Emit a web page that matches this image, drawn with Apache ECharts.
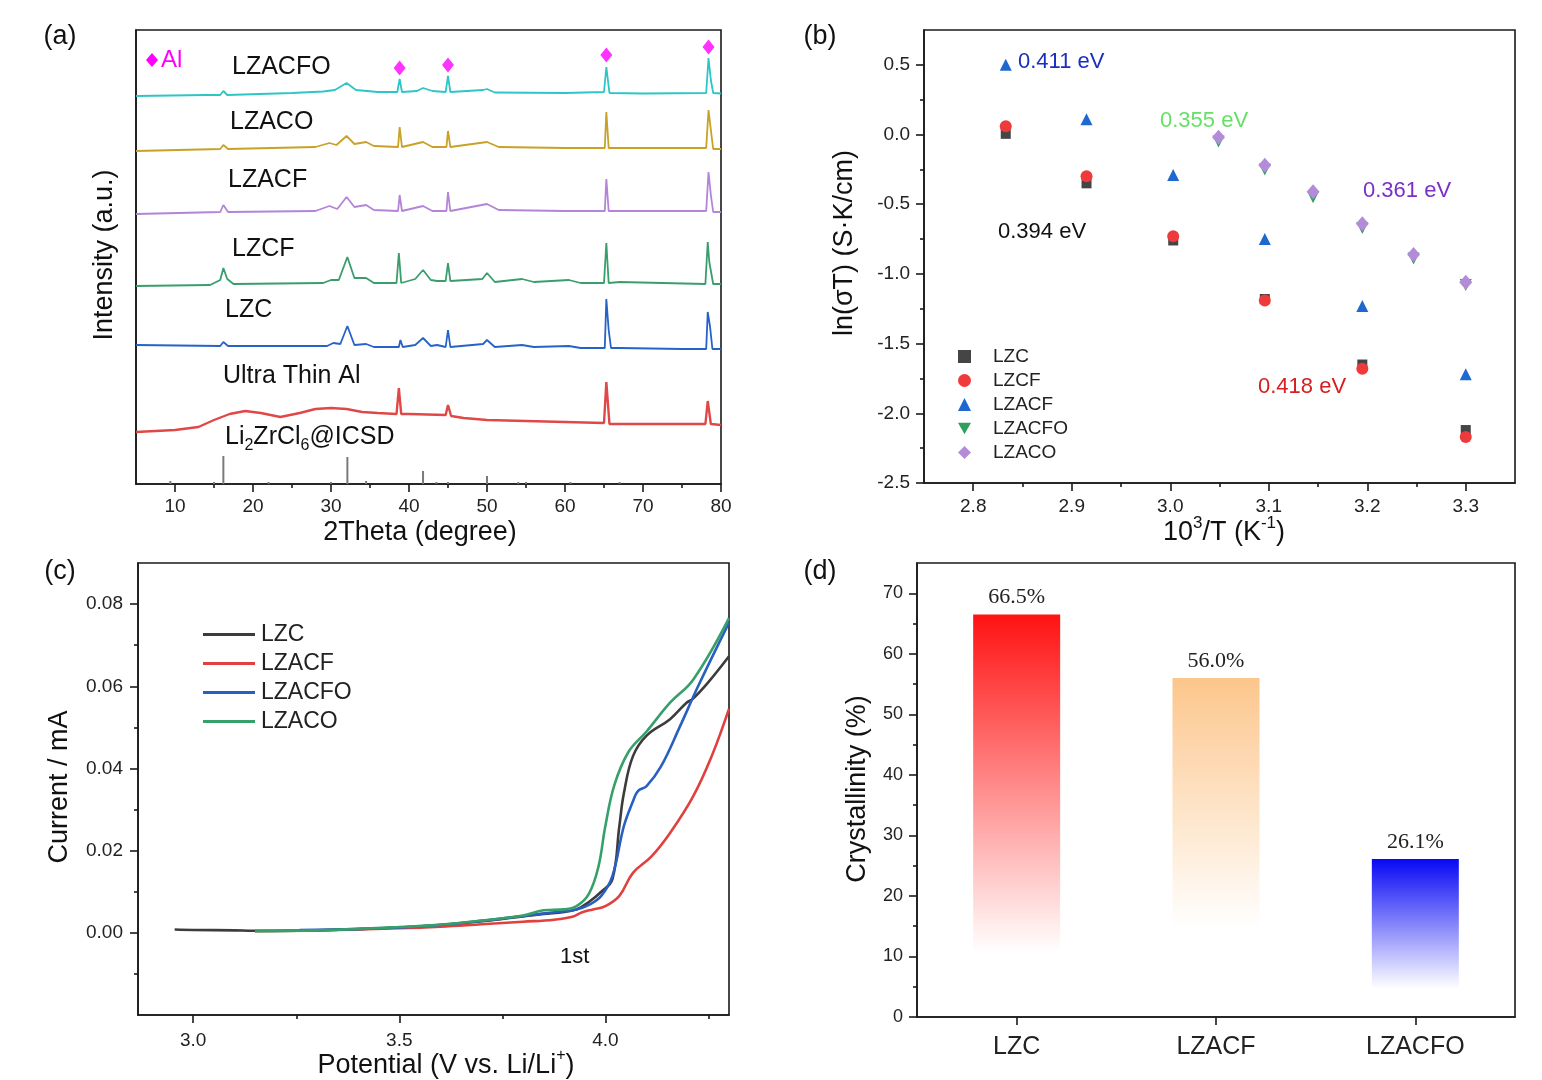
<!DOCTYPE html>
<html><head><meta charset="utf-8">
<script src="https://cdn.jsdelivr.net/npm/echarts@6.0.0/dist/echarts.min.js"></script>
<style>html,body{margin:0;padding:0;background:#fff}#c{width:1542px;height:1080px}</style>
</head><body><div id="c"></div>
<script>
// ---------- Panel (a): XRD patterns (2θ, stacked intensity a.u.) ----------
const xrdLZACFO = [[5,388],[14,389],[15.8,389],[16.2,393],[16.7,389],[25,391],[29,392.5],[30.5,394],[32,401],[33.2,394],[36,392],[38.5,392],[38.8,405],[39.1,392],[41,393],[41.8,396],[43,393],[44.7,392],[45,408],[45.3,392],[49.5,394],[50,395],[51,391.5],[60,391],[65,392],[65.3,417],[65.7,391],[70,390.5],[78.1,391],[78.4,426],[78.7,404],[79,391],[80,390.5]];
const xrdLZACO = [[5,333],[15.8,335],[16.2,339],[16.8,335],[28,337],[29.8,341],[30.7,339],[32,348],[33,340],[34.5,342],[35.5,338],[38.6,337],[38.8,357],[39.1,337],[41.8,342],[43,337],[44.8,337],[45,353],[45.3,337],[50,342],[51.5,337],[60,336],[65.1,336],[65.3,372],[65.6,336],[78.1,336],[78.4,374],[78.7,354],[79,335],[80,335]];
const xrdLZACF = [[5,270],[15.8,272],[16.2,279],[16.8,272],[28,273],[29.8,278],[30.8,275],[32,287],[33,277],[34.5,279],[35.5,274],[38.6,273],[38.8,289],[39.1,273],[41.8,278],[43,273],[44.8,273],[45,292],[45.3,273],[50,280],[51.5,274],[60,273],[65.1,273],[65.3,305],[65.6,273],[78.1,273],[78.4,312],[78.7,289],[79,272],[80,272]];
const xrdLZCF = [[5,198],[14.5,199],[15.8,204],[16.2,216],[16.7,205],[17.5,200],[29,201],[30,204],[31,204],[32.1,227],[33,206],[34.5,206],[35.5,201],[38.4,201],[38.7,231],[39,201],[40.8,205],[41.8,214],[42.8,204],[43.6,203],[44.7,203],[45,221],[45.3,203],[49.4,205],[50,211],[51,202],[54.5,205],[56,202],[60.5,204],[62,201],[65,201],[65.3,241],[65.6,201],[67,202],[78,200],[78.3,242],[78.5,222],[78.7,224],[79,200],[80,200]];
const xrdLZC = [[5,139],[15.8,138],[16.2,142],[16.8,138],[29.5,138],[30.3,141],[31.2,140],[32.1,158],[33,139],[34.5,140],[35.5,137],[38.7,137],[38.9,144],[39.2,137],[40.8,139],[41.8,146],[42.8,138],[43.6,139],[44.7,137],[45,154],[45.3,137],[49.5,140],[50,144],[51,137],[54.5,139],[56,137],[60.5,138],[62,136],[65.1,136],[65.3,185],[65.6,154],[65.9,136],[67,136],[75,135],[78.1,135],[78.3,172],[78.6,157],[78.9,135],[80,135]];
const xrdAlFoil = [[5,52],[10,54],[13,57],[15,64],[17,70],[19,73],[21,71],[23.5,67],[26,71],[28,75],[30,76],[32,75],[34,72],[36,71],[38.4,70],[38.7,96],[39,70],[40,70],[44.7,69],[45,79],[45.4,68],[47,66],[50,64],[55,63],[60,62],[65,61],[65.3,102],[65.7,60],[70,60],[78,60],[78.3,83],[78.7,60],[80,59]];
const icsdSticks = [[9.4,3],[15,2],[16.2,28],[22,2],[30,2],[32.1,27],[34.5,3],[41.8,13],[43.5,2],[45,2],[50,8],[54,2],[55,2],[60.7,2],[67,2]];
const alPeakMarks = [[38.8,416],[45,419],[65.3,429],[78.4,437]];
const xrdTickLabels = [10,20,30,40,50,60,70,80];
const xrdMinorTicks = [15,25,35,45,55,65,75];

// ---------- Panel (b): Arrhenius ----------
const invT_A = [2.833,2.915,3.003,3.096,3.195,3.300];
const invT_B = [3.049,3.096,3.145,3.195,3.247,3.300];
const lnLZC    = [0.005,-0.35,-0.76,-1.18,-1.65,-2.12];
const lnLZCF   = [0.06,-0.30,-0.73,-1.19,-1.68,-2.17];
const lnLZACF  = [0.50,0.11,-0.29,-0.75,-1.23,-1.72];
const lnLZACFO = [-0.05,-0.25,-0.45,-0.67,-0.89,-1.08];
const lnLZACO  = [-0.02,-0.22,-0.41,-0.64,-0.86,-1.06];
const invTTicks = [2.8,2.9,3.0,3.1,3.2,3.3];
const invTMinor = [2.85,2.95,3.05,3.15,3.25];
const lnTicks = [-2.5,-2,-1.5,-1,-0.5,0,0.5];
const lnMinor = [-2.25,-1.75,-1.25,-0.75,-0.25,0.25];

// ---------- Panel (c): LSV ----------
const vLZC = [2.955,3.0,3.1,3.146,3.3,3.4,3.5,3.6,3.7,3.8,3.85,3.9,3.93,3.96,3.99,4.017,4.034,4.045,4.067,4.10,4.157,4.197,4.213,4.25,4.30];
const iLZC = [0.0008,0.0007,0.0006,0.0005,0.0006,0.0009,0.0013,0.0019,0.0028,0.0040,0.0046,0.0051,0.0057,0.0075,0.0100,0.0130,0.0260,0.0340,0.0430,0.0480,0.0520,0.0560,0.0570,0.0610,0.0673];
const vLZACF = [3.15,3.3,3.5,3.6,3.7,3.8,3.876,3.92,3.944,3.97,4.0,4.034,4.067,4.112,4.157,4.213,4.258,4.30];
const iLZACF = [0.0004,0.0006,0.0011,0.0015,0.0021,0.0027,0.0032,0.0039,0.0050,0.0057,0.0065,0.0090,0.0146,0.0186,0.0243,0.0332,0.0430,0.0545];
const vLZACFO = [3.258,3.4,3.5,3.6,3.7,3.8,3.876,3.93,3.96,3.99,4.017,4.045,4.067,4.079,4.10,4.135,4.18,4.225,4.30];
const iLZACFO = [0.0007,0.0009,0.0013,0.0019,0.0029,0.0041,0.0050,0.0057,0.0068,0.0090,0.0138,0.0260,0.0320,0.0345,0.0357,0.0405,0.0500,0.0600,0.0755];
const vLZACO = [3.15,3.3,3.5,3.6,3.7,3.8,3.85,3.9,3.93,3.96,3.983,4.0,4.022,4.056,4.10,4.157,4.213,4.30];
const iLZACO = [0.0004,0.0006,0.0014,0.0020,0.0030,0.0042,0.0055,0.0057,0.0065,0.0095,0.0160,0.0260,0.0360,0.0440,0.0490,0.0560,0.0616,0.0766];
const potTicks = [3.0,3.5,4.0];
const potMinor = [3.25,3.75,4.25];
const curTicks = [0,0.02,0.04,0.06,0.08];
const curMinor = [-0.01,0.01,0.03,0.05,0.07];

// ---------- Panel (d): Crystallinity ----------
const crystCategories = ['LZC','LZACF','LZACFO'];
const crystValues = [66.5,56.0,26.1];
const crystTicks = [0,10,20,30,40,50,60,70];
const crystMinor = [5,15,25,35,45,55,65];

// ---------- styling ----------
const AX = '#1a1a1a';
const SANS = 'Liberation Sans';
const SERIF = 'Liberation Serif';
const tickStyle = {color: AX, width: 1.6};
const DOWN_TRI = 'path://M0,0 L10,0 L5,9 Z';

function axes(gridIndex, pos, min, max, major, minor, fmt, fontSize, margin) {
  const a = {
    type: 'value', gridIndex, position: pos, min, max,
    axisLine: {show: true, onZero: false, lineStyle: {color: AX, width: 1.6}},
    axisTick: {show: true, customValues: major, length: 8, lineStyle: tickStyle},
    axisLabel: {show: true, customValues: major, formatter: fmt, fontSize, color: '#222', fontFamily: SANS, margin},
    splitLine: {show: false}
  };
  const b = {
    type: 'value', gridIndex, position: pos, min, max,
    axisLine: {show: false, onZero: false},
    axisTick: {show: true, customValues: minor, length: 4, lineStyle: tickStyle},
    axisLabel: {show: false, customValues: minor},
    splitLine: {show: false}
  };
  return [a, b];
}

const fx1 = v => v.toFixed(1);
const fx2 = v => v.toFixed(2);
const fx0 = v => String(v);

const xAxes = [
  ...axes(0, 'bottom', 5, 80, xrdTickLabels, xrdMinorTicks, fx0, 19, 13),
  ...axes(1, 'bottom', 2.75, 3.35, invTTicks, invTMinor, fx1, 19, 14),
  ...axes(2, 'bottom', 2.866, 4.30, potTicks, potMinor, fx1, 19, 16),
  {type: 'category', gridIndex: 3, position: 'bottom', data: crystCategories,
   axisLine: {show: true, onZero: false, lineStyle: {color: AX, width: 1.6}},
   axisTick: {show: true, alignWithLabel: true, length: 8, lineStyle: tickStyle},
   axisLabel: {fontSize: 25, color: '#222', fontFamily: SANS, margin: 18}}
];
const yAxes = [
  {type: 'value', gridIndex: 0, position: 'left', min: 0, max: 454,
   axisLine: {show: true, onZero: false, lineStyle: {color: AX, width: 1.6}},
   axisTick: {show: false}, axisLabel: {show: false}, splitLine: {show: false}},
  ...axes(1, 'left', -2.5, 0.75, lnTicks, lnMinor, fx1, 19, 14),
  ...axes(2, 'left', -0.02, 0.09, curTicks, curMinor, fx2, 19, 15),
  ...axes(3, 'left', 0, 75, crystTicks, crystMinor, fx0, 18, 14)
];
// x indices: a=0,1  b=2,3  c=4,5  d=6 ; y indices: a=0  b=1,2  c=3,4  d=5,6

const gridBase = {show: true, borderColor: AX, borderWidth: 1.6, backgroundColor: 'rgba(0,0,0,0)', containLabel: false, outerBoundsMode: 'none'};
const grids = [
  Object.assign({left: 136, top: 30, width: 585, height: 454}, gridBase),
  Object.assign({left: 924, top: 30, width: 591, height: 453}, gridBase),
  Object.assign({left: 138, top: 563, width: 591, height: 452}, gridBase),
  Object.assign({left: 917, top: 563, width: 598, height: 454}, gridBase)
];

function xrdLine(name, data, color, w) {
  return {type: 'line', name, xAxisIndex: 0, yAxisIndex: 0, data, showSymbol: false, symbol: 'none',
    lineStyle: {color, width: w || 1.8}, itemStyle: {color}, silent: true, z: 3};
}
function scat(name, xs, ys, symbol, size, color) {
  return {type: 'scatter', name, xAxisIndex: 2, yAxisIndex: 1, symbol, symbolSize: size,
    itemStyle: {color, opacity: 1}, data: xs.map((x, i) => [x, ys[i]]), z: 4};
}
function lsv(name, xs, ys, color) {
  return {type: 'line', name, xAxisIndex: 4, yAxisIndex: 3, data: xs.map((x, i) => [x, ys[i]]),
    showSymbol: false, symbol: 'none', smooth: 0.4,
    lineStyle: {color, width: 2.6}, itemStyle: {color}, z: 3};
}
const grad = (top, fadeAt) => new echarts.graphic.LinearGradient(0, 0, 0, 1, [
  {offset: 0, color: top}, {offset: fadeAt, color: top.replace('1)', '0)')}, {offset: 1, color: top.replace('1)', '0)')}]);
const barGradients = [grad('rgba(255,18,18,1)', 0.84), grad('rgba(252,198,140,1)', 0.74), grad('rgba(8,8,245,1)', 0.82)];

const series = [
  xrdLine('xLZACFO', xrdLZACFO, '#2ec5c6'),
  xrdLine('xLZACO', xrdLZACO, '#c9a127'),
  xrdLine('xLZACF', xrdLZACF, '#b384d8'),
  xrdLine('xLZCF', xrdLZCF, '#3a9e6c'),
  xrdLine('xLZC', xrdLZC, '#2563c9'),
  xrdLine('xAl', xrdAlFoil, '#e04848', 2.4),
  {type: 'bar', name: 'ICSD', xAxisIndex: 0, yAxisIndex: 0, barWidth: 2, data: icsdSticks,
   itemStyle: {color: '#7a7a7a'}, silent: true},
  {type: 'scatter', name: 'AlMark', xAxisIndex: 0, yAxisIndex: 0, symbol: 'diamond', symbolSize: [12, 15],
   itemStyle: {color: '#ff00ff'}, data: alPeakMarks, silent: true},

  scat('LZC', invT_A, lnLZC, 'rect', 10, '#454545'),
  scat('LZCF', invT_A, lnLZCF, 'circle', 12, '#ee3a3a'),
  scat('LZACF', invT_A, lnLZACF, 'triangle', 12, '#1f68cf'),
  scat('LZACFO', invT_B, lnLZACFO, DOWN_TRI, 12, '#2f9f60'),
  scat('LZACO', invT_B, lnLZACO, 'diamond', [13, 15], '#b48bd9'),

  lsv('c:LZC', vLZC, iLZC, '#3c3c3c'),
  lsv('c:LZACF', vLZACF, iLZACF, '#e0413f'),
  lsv('c:LZACFO', vLZACFO, iLZACFO, '#2a5fc2'),
  lsv('c:LZACO', vLZACO, iLZACO, '#36a06a'),

  {type: 'bar', name: 'cryst', xAxisIndex: 6, yAxisIndex: 5, barWidth: 87,
   data: crystValues.map((v, i) => ({value: v, itemStyle: {color: barGradients[i]}})),
   label: {show: true, position: 'top', distance: 6, formatter: p => p.value.toFixed(1) + '%',
     fontFamily: SERIF, fontSize: 22, color: '#222'}}
];

function txt(x, y, text, size, color, opts) {
  return Object.assign({type: 'text', x, y, z: 100, style: Object.assign({text, fontSize: size, fill: color || '#111',
    fontFamily: SANS, align: 'left', verticalAlign: 'middle'}, (opts && opts.style) || {})},
    opts && opts.rotation !== undefined ? {rotation: opts.rotation} : {});
}
const rot = Math.PI / 2;
const cStyle = {align: 'center'};
const graphics = [
  txt(60, 37, '(a)', 27, '#111', {style: cStyle}),
  txt(820, 37, '(b)', 27, '#111', {style: cStyle}),
  txt(60, 572, '(c)', 27, '#111', {style: cStyle}),
  txt(820, 572, '(d)', 27, '#111', {style: cStyle}),
  // panel a labels
  {type: 'polygon', z: 100, shape: {points: [[152, 53], [158, 60], [152, 67], [146, 60]]}, style: {fill: '#ff00ff'}},
  txt(161, 60, 'Al', 24, '#ff00ff'),
  txt(232, 67, 'LZACFO', 25),
  txt(230, 122, 'LZACO', 25),
  txt(228, 180, 'LZACF', 25),
  txt(232, 249, 'LZCF', 25),
  txt(225, 310, 'LZC', 25),
  txt(223, 376, 'Ultra Thin Al', 25),
  {type: 'text', x: 225, y: 437, z: 100, style: {text: '{m|Li}{s|2}{m|ZrCl}{s|6}{m|@ICSD}', fill: '#111',
    align: 'left', verticalAlign: 'middle', fontFamily: SANS,
    rich: {m: {fontSize: 25, lineHeight: 34, verticalAlign: 'middle', fontFamily: SANS, fill: '#111'},
           s: {fontSize: 16, lineHeight: 16, verticalAlign: 'bottom', fontFamily: SANS, fill: '#111'}}}},
  txt(420, 533, '2Theta (degree)', 27, '#111', {style: cStyle}),
  txt(105, 255, 'Intensity (a.u.)', 27, '#111', {style: cStyle, rotation: rot}),
  // panel b
  txt(1018, 62, '0.411 eV', 22, '#1a2fbf'),
  txt(1160, 121, '0.355 eV', 22, '#66e066'),
  txt(1363, 191, '0.361 eV', 22, '#7a30c8'),
  txt(998, 232, '0.394 eV', 22, '#111'),
  txt(1258, 387, '0.418 eV', 22, '#d42020'),
  txt(845, 243, 'ln(σT) (S·K/cm)', 27, '#111', {style: cStyle, rotation: rot}),
  {type: 'text', x: 1224, y: 533, z: 100, style: {text: '{m|10}{s|3}{m|/T (K}{s|-1}{m|)}', fill: '#111',
    align: 'center', verticalAlign: 'middle', fontFamily: SANS,
    rich: {m: {fontSize: 27, lineHeight: 36, verticalAlign: 'middle', fontFamily: SANS, fill: '#111'},
           s: {fontSize: 17, lineHeight: 22, verticalAlign: 'top', fontFamily: SANS, fill: '#111'}}}},
  // panel c
  txt(560, 957, '1st', 22),
  txt(60, 787, 'Current / mA', 27, '#111', {style: cStyle, rotation: rot}),
  {type: 'text', x: 446, y: 1066, z: 100, style: {text: '{m|Potential (V vs. Li/Li}{s|+}{m|)}', fill: '#111',
    align: 'center', verticalAlign: 'middle', fontFamily: SANS,
    rich: {m: {fontSize: 27, lineHeight: 36, verticalAlign: 'middle', fontFamily: SANS, fill: '#111'},
           s: {fontSize: 16, lineHeight: 22, verticalAlign: 'top', fontFamily: SANS, fill: '#111'}}}},
  // panel d
  txt(858, 789, 'Crystallinity (%)', 27, '#111', {style: cStyle, rotation: rot})
];

const option = {
  animation: false,
  backgroundColor: '#fff',
  textStyle: {fontFamily: SANS},
  grid: grids,
  xAxis: xAxes,
  yAxis: yAxes,
  legend: [
    {orient: 'vertical', left: 953, top: 342, itemWidth: 13, itemHeight: 13, itemGap: 5, selectedMode: false,
     textStyle: {fontSize: 19, color: '#222', fontFamily: SANS, padding: [0, 0, 0, 17]},
     data: ['LZC', 'LZCF', 'LZACF', 'LZACFO', 'LZACO']},
    {orient: 'vertical', left: 198, top: 618, itemWidth: 52, itemHeight: 3, itemGap: 6, selectedMode: false,
     textStyle: {fontSize: 23, color: '#222', fontFamily: SANS, padding: [0, 0, 0, 1]},
     formatter: n => n.replace('c:', ''),
     data: [{name: 'c:LZC', icon: 'rect'}, {name: 'c:LZACF', icon: 'rect'}, {name: 'c:LZACFO', icon: 'rect'}, {name: 'c:LZACO', icon: 'rect'}]}
  ],
  series,
  graphic: graphics
};

const chart = echarts.init(document.getElementById('c'), null, {renderer: 'canvas'});
chart.setOption(option);
</script></body></html>
